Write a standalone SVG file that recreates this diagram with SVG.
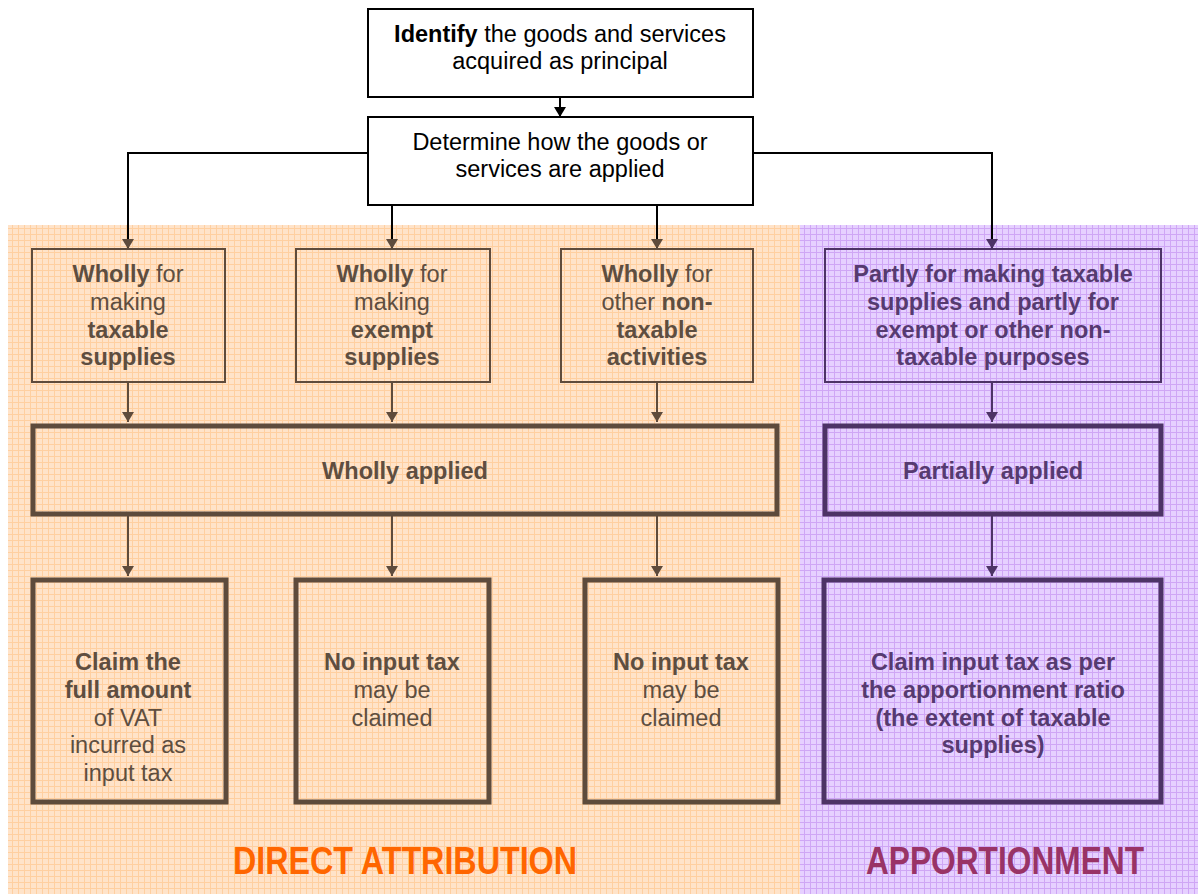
<svg xmlns="http://www.w3.org/2000/svg" width="1198" height="894" viewBox="0 0 1198 894">
<defs>
<pattern id="gridO" width="6" height="6" patternUnits="userSpaceOnUse">
<rect width="6" height="6" fill="#FFE3C9"/>
<path d="M0 0.5H6M0.5 0V6" stroke="#FFCFA0" stroke-width="1"/>
</pattern>
<pattern id="gridP" width="6" height="6" patternUnits="userSpaceOnUse">
<rect width="6" height="6" fill="#E6D0FF"/>
<path d="M0 0.5H6M0.5 0V6" stroke="#CFA6F5" stroke-width="1"/>
</pattern>
<marker id="ab" viewBox="0 0 12 10" refX="6" refY="10" markerWidth="12" markerHeight="10" markerUnits="userSpaceOnUse" orient="0">
<path d="M0 0L12 0L6 10Z" fill="#000"/>
</marker>
<marker id="abr" viewBox="0 0 12 10" refX="6" refY="10" markerWidth="12" markerHeight="10" markerUnits="userSpaceOnUse" orient="0">
<path d="M0 0L12 0L6 10Z" fill="#5e4b3c"/>
</marker>
<marker id="apu" viewBox="0 0 12 10" refX="6" refY="10" markerWidth="12" markerHeight="10" markerUnits="userSpaceOnUse" orient="0">
<path d="M0 0L12 0L6 10Z" fill="#4d3366"/>
</marker>
<style>
text{font-family:"Liberation Sans",Arial,sans-serif;font-size:23.5px;text-anchor:middle}
.blk{fill:#000}
.br{fill:#5e4e40}
.pu{fill:#563a70}
.b{font-weight:bold}
.wb{fill:#fff;stroke:#000;stroke-width:2}
.ob1{fill:none;stroke:#5e4b3c;stroke-width:2}
.ob2{fill:none;stroke:#5e4b3c;stroke-width:5}
.pb1{fill:none;stroke:#4d3366;stroke-width:2}
.pb2{fill:none;stroke:#4d3366;stroke-width:5}
.cb{fill:none;stroke:#000;stroke-width:2}
.cbr{fill:none;stroke:#5e4b3c;stroke-width:2}
.cpu{fill:none;stroke:#4d3366;stroke-width:2}
.lbl{font-weight:bold;font-size:38px}
</style>
</defs>
<rect width="1198" height="894" fill="#fff"/>
<rect x="8" y="225" width="792" height="669" fill="url(#gridO)"/>
<rect x="800" y="225" width="398" height="669" fill="url(#gridP)"/>

<g id="connectors">
<line class="cb" x1="560" y1="97" x2="560" y2="117" marker-end="url(#ab)"/>
<polyline class="cb" points="368,153 128,153 128,249" marker-end="url(#abr)"/>
<polyline class="cb" points="753,153 992,153 992,249" marker-end="url(#apu)"/>
<line class="cb" x1="392" y1="205" x2="392" y2="249" marker-end="url(#abr)"/>
<line class="cb" x1="657" y1="205" x2="657" y2="249" marker-end="url(#abr)"/>
<line class="cbr" x1="128" y1="382" x2="128" y2="422" marker-end="url(#abr)"/>
<line class="cbr" x1="392" y1="382" x2="392" y2="422" marker-end="url(#abr)"/>
<line class="cbr" x1="657" y1="382" x2="657" y2="422" marker-end="url(#abr)"/>
<line class="cpu" x1="992" y1="382" x2="992" y2="422" marker-end="url(#apu)"/>
<line class="cbr" x1="128" y1="515" x2="128" y2="576" marker-end="url(#abr)"/>
<line class="cbr" x1="392" y1="515" x2="392" y2="576" marker-end="url(#abr)"/>
<line class="cbr" x1="657" y1="515" x2="657" y2="576" marker-end="url(#abr)"/>
<line class="cpu" x1="992" y1="515" x2="992" y2="576" marker-end="url(#apu)"/>
</g>

<g id="identify">
<rect class="wb" x="368" y="9" width="385" height="88"/>
<text class="blk" x="560" y="42"><tspan font-weight="bold">Identify</tspan> the goods and services</text>
<text class="blk" x="560" y="69">acquired as principal</text>
</g>
<g id="determine">
<rect class="wb" x="368" y="117" width="385" height="88"/>
<text class="blk" x="560" y="150">Determine how the goods or</text>
<text class="blk" x="560" y="177">services are applied</text>
</g>

<g id="wholly-taxable">
<rect class="ob1" x="32" y="249" width="193" height="133"/>
<text class="br" x="128" y="282"><tspan font-weight="bold">Wholly</tspan> for</text>
<text class="br" x="128" y="310">making</text>
<text class="br b" x="128" y="338">taxable</text>
<text class="br b" x="128" y="365">supplies</text>
</g>
<g id="wholly-exempt">
<rect class="ob1" x="296" y="249" width="194" height="133"/>
<text class="br" x="392" y="282"><tspan font-weight="bold">Wholly</tspan> for</text>
<text class="br" x="392" y="310">making</text>
<text class="br b" x="392" y="338">exempt</text>
<text class="br b" x="392" y="365">supplies</text>
</g>
<g id="wholly-nontaxable">
<rect class="ob1" x="561" y="249" width="192" height="133"/>
<text class="br" x="657" y="282"><tspan font-weight="bold">Wholly</tspan> for</text>
<text class="br" x="657" y="310">other <tspan font-weight="bold">non-</tspan></text>
<text class="br b" x="657" y="338">taxable</text>
<text class="br b" x="657" y="365">activities</text>
</g>
<g id="partly">
<rect class="pb1" x="825" y="249" width="336" height="133"/>
<text class="pu b" x="993" y="282">Partly for making taxable</text>
<text class="pu b" x="993" y="310">supplies and partly for</text>
<text class="pu b" x="993" y="338">exempt or other non-</text>
<text class="pu b" x="993" y="365">taxable purposes</text>
</g>

<g id="wholly-applied">
<rect class="ob2" x="33" y="426" width="744" height="88"/>
<text class="br b" x="405" y="479">Wholly applied</text>
</g>
<g id="partially-applied">
<rect class="pb2" x="825" y="426" width="336" height="88"/>
<text class="pu b" x="993" y="479">Partially applied</text>
</g>

<g id="claim-full">
<rect class="ob2" x="33" y="580" width="193" height="222"/>
<text class="br b" x="128" y="670">Claim the</text>
<text class="br b" x="128" y="698">full amount</text>
<text class="br" x="128" y="726">of VAT</text>
<text class="br" x="128" y="753">incurred as</text>
<text class="br" x="128" y="781">input tax</text>
</g>
<g id="no-input-1">
<rect class="ob2" x="296" y="580" width="193" height="222"/>
<text class="br b" x="392" y="670">No input tax</text>
<text class="br" x="392" y="698">may be</text>
<text class="br" x="392" y="726">claimed</text>
</g>
<g id="no-input-2">
<rect class="ob2" x="585" y="580" width="193" height="222"/>
<text class="br b" x="681" y="670">No input tax</text>
<text class="br" x="681" y="698">may be</text>
<text class="br" x="681" y="726">claimed</text>
</g>
<g id="claim-ratio">
<rect class="pb2" x="824" y="580" width="337" height="222"/>
<text class="pu b" x="993" y="670">Claim input tax as per</text>
<text class="pu b" x="993" y="698">the apportionment ratio</text>
<text class="pu b" x="993" y="726">(the extent of taxable</text>
<text class="pu b" x="993" y="753">supplies)</text>
</g>

<g id="labels">
<text class="lbl" x="405" y="874" fill="#FF6600" textLength="344" lengthAdjust="spacingAndGlyphs">DIRECT ATTRIBUTION</text>
<text class="lbl" x="1005" y="874" fill="#993366" textLength="278" lengthAdjust="spacingAndGlyphs">APPORTIONMENT</text>
</g>
</svg>
